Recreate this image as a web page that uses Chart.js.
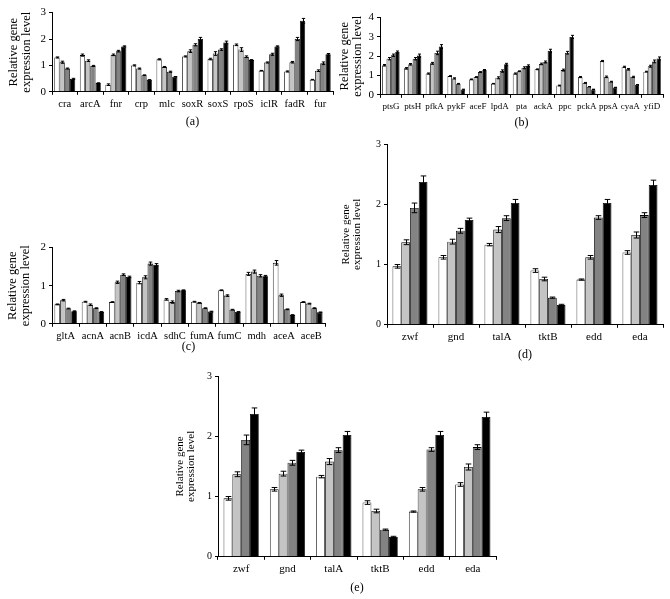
<!DOCTYPE html>
<html>
<head>
<meta charset="utf-8">
<script src="https://cdn.jsdelivr.net/npm/chart.js@4.4.1/dist/chart.umd.min.js"></script>
<style>
  html, body { margin: 0; padding: 0; background: #fff; }
  body { width: 670px; height: 599px; position: relative; overflow: hidden; }
  canvas { position: absolute; }
</style>
</head>
<body>
<canvas id="chartA"></canvas>
<canvas id="chartB"></canvas>
<canvas id="chartC"></canvas>
<canvas id="chartD"></canvas>
<canvas id="chartE"></canvas>
<script>
// (a) regulators
const genesA = ["cra", "arcA", "fnr", "crp", "mlc", "soxR", "soxS", "rpoS", "iclR", "fadR", "fur"];
const aWhite = [1.30, 1.39, 0.27, 1.00, 1.23, 1.34, 1.24, 1.78, 0.80, 0.77, 0.46];
const aLight = [1.12, 1.18, 1.40, 0.88, 0.94, 1.54, 1.45, 1.60, 1.11, 1.12, 0.80];
const aDark  = [0.88, 0.98, 1.54, 0.63, 0.76, 1.78, 1.60, 1.33, 1.42, 2.00, 1.08];
const aBlack = [0.49, 0.33, 1.72, 0.45, 0.57, 2.00, 1.87, 1.20, 1.72, 2.69, 1.42];
const aWhiteErr = [0.02, 0.04, 0.03, 0.02, 0.02, 0.02, 0.03, 0.03, 0.01, 0.02, 0.01];
const aLightErr = [0.04, 0.03, 0.03, 0.02, 0.02, 0.05, 0.07, 0.07, 0.02, 0.03, 0.03];
const aDarkErr  = [0.02, 0.02, 0.03, 0.01, 0.02, 0.04, 0.03, 0.03, 0.04, 0.06, 0.05];
const aBlackErr = [0.02, 0.01, 0.02, 0.01, 0.01, 0.06, 0.05, 0.02, 0.02, 0.09, 0.03];

// (b) glycolysis / acetate
const genesB = ["ptsG", "ptsH", "pfkA", "pykF", "aceF", "lpdA", "pta", "ackA", "ppc", "pckA", "ppsA", "cyaA", "yfiD"];
const bWhite = [1.53, 1.37, 1.10, 0.97, 0.80, 0.58, 1.10, 1.32, 0.48, 0.92, 1.75, 1.45, 1.20];
const bLight = [1.87, 1.58, 1.63, 0.85, 0.92, 0.88, 1.22, 1.60, 1.28, 0.62, 0.93, 1.32, 1.48];
const bDark  = [2.05, 1.87, 2.17, 0.57, 1.18, 1.23, 1.40, 1.70, 2.18, 0.42, 0.68, 0.93, 1.73];
const bBlack = [2.22, 2.03, 2.50, 0.27, 1.28, 1.58, 1.50, 2.28, 3.00, 0.28, 0.38, 0.52, 1.88];
const bWhiteErr = [0.04, 0.04, 0.03, 0.02, 0.02, 0.01, 0.03, 0.02, 0.02, 0.03, 0.03, 0.03, 0.02];
const bLightErr = [0.06, 0.04, 0.05, 0.03, 0.02, 0.05, 0.02, 0.04, 0.05, 0.02, 0.04, 0.04, 0.05];
const bDarkErr  = [0.06, 0.06, 0.09, 0.02, 0.02, 0.06, 0.05, 0.05, 0.07, 0.01, 0.02, 0.03, 0.07];
const bBlackErr = [0.05, 0.08, 0.10, 0.02, 0.03, 0.05, 0.05, 0.08, 0.08, 0.01, 0.01, 0.01, 0.08];

// (c) TCA cycle / glyoxylate
const genesC = ["gltA", "acnA", "acnB", "icdA", "sdhC", "fumA", "fumC", "mdh", "aceA", "aceB"];
const cWhite = [0.51, 0.58, 0.57, 1.08, 0.64, 0.58, 0.88, 1.31, 1.60, 0.57];
const cLight = [0.62, 0.50, 1.09, 1.22, 0.57, 0.55, 0.74, 1.37, 0.75, 0.53];
const cDark  = [0.40, 0.41, 1.29, 1.58, 0.86, 0.41, 0.37, 1.26, 0.38, 0.41];
const cBlack = [0.33, 0.31, 1.23, 1.55, 0.88, 0.32, 0.31, 1.25, 0.23, 0.30];
const cWhiteErr = [0.01, 0.01, 0.01, 0.03, 0.02, 0.01, 0.01, 0.04, 0.06, 0.01];
const cLightErr = [0.02, 0.02, 0.03, 0.04, 0.03, 0.01, 0.02, 0.04, 0.03, 0.01];
const cDarkErr  = [0.01, 0.01, 0.02, 0.04, 0.02, 0.01, 0.01, 0.03, 0.01, 0.01];
const cBlackErr = [0.01, 0.01, 0.02, 0.03, 0.01, 0.01, 0.01, 0.02, 0.01, 0.01];

// (d) and (e) pentose phosphate / ED pathway (same data)
const genesD = ["zwf", "gnd", "talA", "tktB", "edd", "eda"];
const dWhite = [0.97, 1.12, 1.33, 0.90, 0.75, 1.20];
const dLight = [1.37, 1.38, 1.58, 0.76, 1.12, 1.49];
const dDark  = [1.94, 1.56, 1.77, 0.45, 1.78, 1.82];
const dBlack = [2.37, 1.74, 2.02, 0.33, 2.02, 2.32];
const dWhiteErr = [0.03, 0.03, 0.02, 0.03, 0.01, 0.03];
const dLightErr = [0.04, 0.04, 0.05, 0.03, 0.03, 0.05];
const dDarkErr  = [0.08, 0.04, 0.04, 0.01, 0.03, 0.04];
const dBlackErr = [0.10, 0.03, 0.06, 0.01, 0.06, 0.08];

const fills = ["#ffffff", "#c4c4c4", "#838383", "#000000"];

Chart.defaults.font.family = "'Liberation Serif', 'DejaVu Serif', serif";
Chart.defaults.color = "#000";

const errorBars = {
  id: "errorBars",
  afterDatasetsDraw(chart) {
    const ctx = chart.ctx, y = chart.scales.y;
    ctx.save();
    ctx.strokeStyle = "#000";
    ctx.lineWidth = 1;
    chart.data.datasets.forEach((ds, i) => {
      chart.getDatasetMeta(i).data.forEach((bar, j) => {
        const v = ds.data[j], e = ds.err[j];
        const x = Math.round(bar.x) + 0.5;
        const t = y.getPixelForValue(v + e), b = y.getPixelForValue(v - e);
        const half = Math.max(1.5, bar.width * 0.32);
        ctx.beginPath();
        ctx.moveTo(x, t); ctx.lineTo(x, b);
        ctx.moveTo(x - half, t); ctx.lineTo(x + half, t);
        ctx.moveTo(x - half, b); ctx.lineTo(x + half, b);
        ctx.stroke();
      });
    });
    ctx.restore();
  }
};

// box: chart area edges and centre of the panel tag; o: fonts and spacing
function panel(id, box, labels, series, errs, yMax, tag, o) {
  const padTop = 7, padRight = 3, yW = 50;
  const cv = document.getElementById(id);
  const left = box.left - yW;
  const top = box.top - padTop;
  const tagHalf = 12 * 1.2 / 2;
  cv.style.left = left + "px";
  cv.style.top = top + "px";
  cv.width = box.right + padRight - left;
  cv.height = Math.round(box.tagY + tagHalf - top);

  new Chart(cv, {
    type: "bar",
    data: {
      labels,
      datasets: series.map((d, i) => ({
        data: d,
        err: errs[i],
        backgroundColor: fills[i],
        borderColor: "#000",
        borderWidth: 0.8,
        categoryPercentage: o.cat,
        barPercentage: 1
      }))
    },
    options: {
      responsive: false,
      animation: false,
      devicePixelRatio: 1,
      layout: { padding: { top: padTop, right: padRight, left: 0, bottom: 0 } },
      plugins: { legend: { display: false }, tooltip: { enabled: false } },
      scales: {
        x: {
          grid: { drawOnChartArea: false, tickLength: 3, color: "#000" },
          border: { color: "#000" },
          ticks: { font: { size: o.xFont }, padding: 3, maxRotation: 0, autoSkip: false },
          title: { display: true, text: tag, font: { size: 12 }, padding: { top: 0, bottom: 0 } },
          afterFit: s => { s.height = box.tagY + tagHalf - box.bottom; }
        },
        y: {
          min: 0,
          max: yMax,
          ticks: { stepSize: 1, font: { size: o.yFont }, padding: 3 },
          grid: { drawOnChartArea: false, tickLength: 3, color: "#000" },
          border: { color: "#000" },
          title: {
            display: true,
            text: ["Relative gene", "expression level"],
            font: { size: o.tFont, lineHeight: 1.0 },
            padding: { top: o.titleX - left - o.tFont * 0.5, bottom: 0 }
          },
          afterFit: s => { s.width = yW; }
        }
      }
    },
    plugins: [errorBars]
  });
}

panel("chartA", { left: 52, right: 333, top: 10, bottom: 92, tagY: 122 }, genesA,
  [aWhite, aLight, aDark, aBlack], [aWhiteErr, aLightErr, aDarkErr, aBlackErr], 3, "(a)",
  { cat: 0.82, xFont: 10.5, yFont: 11, tFont: 12.5, titleX: 14 });

panel("chartB", { left: 380, right: 663, top: 15, bottom: 95, tagY: 123 }, genesB,
  [bWhite, bLight, bDark, bBlack], [bWhiteErr, bLightErr, bDarkErr, bBlackErr], 4, "(b)",
  { cat: 0.8, xFont: 9, yFont: 11, tFont: 12.5, titleX: 345 });

panel("chartC", { left: 52, right: 325, top: 245, bottom: 324, tagY: 347 }, genesC,
  [cWhite, cLight, cDark, cBlack], [cWhiteErr, cLightErr, cDarkErr, cBlackErr], 2, "(c)",
  { cat: 0.82, xFont: 10.5, yFont: 11, tFont: 12.5, titleX: 13 });

panel("chartD", { left: 387, right: 663, top: 142, bottom: 325, tagY: 355 }, genesD,
  [dWhite, dLight, dDark, dBlack], [dWhiteErr, dLightErr, dDarkErr, dBlackErr], 3, "(d)",
  { cat: 0.76, xFont: 11, yFont: 10, tFont: 11, titleX: 346 });

panel("chartE", { left: 218, right: 496, top: 374, bottom: 557, tagY: 588 }, genesD,
  [dWhite, dLight, dDark, dBlack], [dWhiteErr, dLightErr, dDarkErr, dBlackErr], 3, "(e)",
  { cat: 0.76, xFont: 11, yFont: 10, tFont: 11, titleX: 180 });
</script>
</body>
</html>
